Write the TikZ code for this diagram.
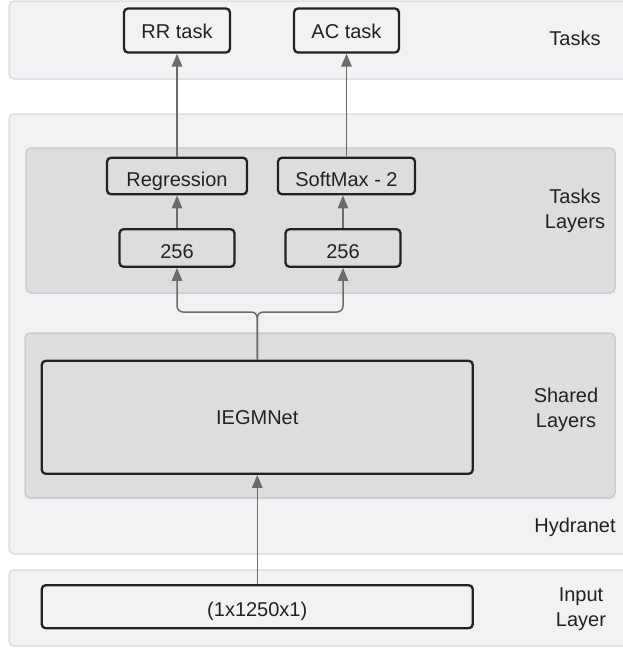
\documentclass[tikz,border=0pt]{standalone}
\usepackage{fontspec}
\setmainfont{Liberation Sans}
\usetikzlibrary{arrows.meta}
\definecolor{panelbg}{HTML}{F1F2F4}
\definecolor{panelline}{HTML}{DEDFE2}
\definecolor{layerbg}{HTML}{DCDDDF}
\definecolor{layerline}{HTML}{CBCCCF}
\definecolor{arrowgray}{HTML}{6B6B6B}
\definecolor{inkdark}{HTML}{222222}

\begin{document}
\begin{tikzpicture}[x=1pt,y=-1pt,
    panel/.style={fill=panelbg,draw=panelline,line width=1.5pt,rounded corners=5pt},
    layer/.style={fill=layerbg,draw=layerline,line width=1.5pt,rounded corners=5pt},
    blockbox/.style={draw=inkdark,line width=2.3pt,rounded corners=4pt,inner sep=0,text=inkdark,
        text height=20pt,text depth=0pt},
    sidelabel/.style={align=center,text=inkdark},
    arr/.style={draw=arrowgray,line width=1.5pt,-{Triangle[length=13pt,width=10.5pt]}}]
    \pgfmathsetmacro{\labelx}{575}
    \pgfmathsetmacro{\netx}{257.25}
    \providecommand{\diagfontsize}{\fontsize{20pt}{25pt}\selectfont}
    \diagfontsize
    \useasboundingbox (0,0) rectangle (623,651);
    % panels
    \draw[panel] (9,1) rectangle (634,79);
    \draw[panel] (9,114) rectangle (634,554);
    \draw[panel] (9,570) rectangle (634,646);
    \draw[layer] (26,148) rectangle (615,293);
    \draw[layer] (25,333) rectangle (615,498);
    % blocks
    \node[blockbox,fill=panelbg,minimum width=106pt,minimum height=44pt,text height=15pt](rr) at (177,30.5){RR task};
    \node[blockbox,fill=panelbg,minimum width=105pt,minimum height=44pt,text height=15pt](ac) at (346.5,30.5){AC task};
    \node[blockbox,fill=layerbg,minimum width=140pt,minimum height=36.5pt](reg) at (177,176){Regression};
    \node[blockbox,fill=layerbg,minimum width=137pt,minimum height=36.5pt](soft) at (346.5,176){SoftMax - 2};
    \node[blockbox,fill=layerbg,minimum width=115pt,minimum height=37.5pt](densea) at (177,248){256};
    \node[blockbox,fill=layerbg,minimum width=115pt,minimum height=37.5pt](denseb) at (343,248){256};
    \node[blockbox,fill=layerbg,minimum width=431pt,minimum height=113pt,text height=14pt](iegm) at (\netx,417.3){IEGMNet};
    \node[blockbox,fill=panelbg,minimum width=431pt,minimum height=43pt](input) at (\netx,606.7){(1x1250x1)};
    % labels
    \node[sidelabel](tasks) at (\labelx,38){Tasks};
    \node[sidelabel](taskslayers) at (\labelx,211){Tasks\\Layers};
    \node[sidelabel](shared) at (566,410){Shared\\Layers};
    \node[sidelabel](hydra) at (\labelx,527){Hydranet};
    \node[sidelabel](inlayer) at (581,609){Input\\Layer};
    % connectors
    \coordinate (split) at (\netx,312);
    \draw[arr] (input.north) -- (iegm.south);
    \draw[arr,rounded corners=6pt] (iegm.north) -- (split) -| (densea.south);
    \draw[arr,rounded corners=6pt] (iegm.north) -- (split) -| (denseb.south);
    \draw[arr] (densea.north) -- (reg.south);
    \draw[arr] (denseb.north) -- (denseb.north |- soft.south);
    \draw[arr] (reg.north) -- (rr.south);
    \draw[arr] (soft.north) -- (ac.south);
\end{tikzpicture}
\end{document}
